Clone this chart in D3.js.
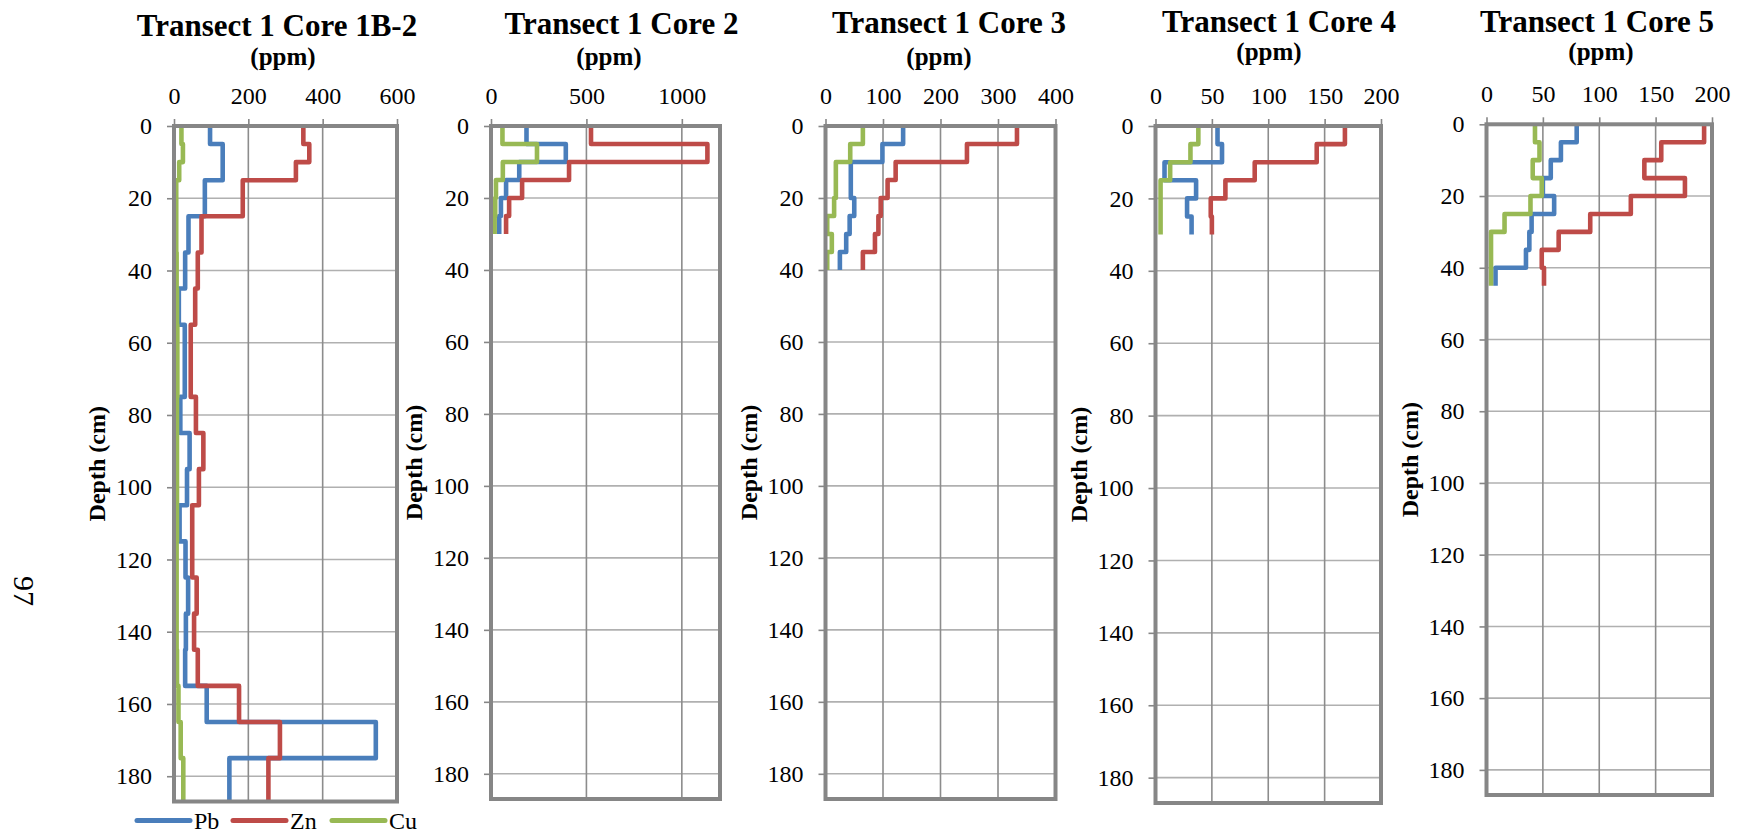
<!DOCTYPE html>
<html><head><meta charset="utf-8">
<script src="https://cdn.jsdelivr.net/npm/d3@7"></script>
<style>
body{margin:0;background:#fff}
svg{display:block}
svg text{font-family:"Liberation Serif","Times New Roman",serif !important;fill:#000}
</style>
</head><body>
<svg id="chart" width="1741" height="837"></svg>
<script>
// ---------- DATA ----------
const seriesNames = ["Pb", "Zn", "Cu"];
const depthMax = 187;
const depthTicks = [0, 20, 40, 60, 80, 100, 120, 140, 160, 180];
const subtitleText = "(ppm)";
const depthLabel = "Depth (cm)";
const pageNumber = "97";

// Core 1B-2
const core1Title = "Transect 1 Core 1B-2";
const core1Ticks = [0, 200, 400, 600];
const core1Depths = [0, 5, 10, 15, 25, 35, 45, 55, 75, 85, 95, 105, 115, 125, 135, 145, 155, 165, 175, 187];
const core1Pb = [97, 131, 131, 83, 39, 30, 13, 29, 17, 42, 35, 15, 31, 38, 32, 30, 88, 543, 149];
const core1Zn = [348, 364, 328, 185, 74, 64, 57, 45, 59, 79, 67, 49, 49, 61, 54, 64, 175, 285, 254];
const core1Cu = [20, 24, 14, 6, 6, 7, 8, 9, 8, 8, 8, 8, 7, 7, 7, 8, 12, 18, 25];

// Core 2
const core2Title = "Transect 1 Core 2";
const core2Ticks = [0, 500, 1000];
const core2Depths = [0, 5, 10, 15, 20, 25, 30];
const core2Pb = [186, 392, 148, 79, 52, 43];
const core2Zn = [524, 1134, 409, 163, 95, 79];
const core2Cu = [60, 241, 62, 26, 22, 19];

// Core 3
const core3Title = "Transect 1 Core 3";
const core3Ticks = [0, 100, 200, 300, 400];
const core3Depths = [0, 5, 10, 15, 20, 25, 30, 35, 40];
const core3Pb = [135, 99, 44, 44, 50, 42, 36, 25];
const core3Zn = [333, 246, 122, 108, 96, 92, 86, 65];
const core3Cu = [65, 43, 18, 18, 15, 3, 11, 3];

// Core 4
const core4Title = "Transect 1 Core 4";
const core4Ticks = [0, 50, 100, 150, 200];
const core4Depths = [0, 5, 10, 15, 20, 25, 30];
const core4Pb = [55, 59, 8, 36, 28, 32];
const core4Zn = [168, 143, 88, 62, 49, 50];
const core4Cu = [38, 31, 13, 4.5, 4.5, 4.5];

// Core 5
const core5Title = "Transect 1 Core 5";
const core5Ticks = [0, 50, 100, 150, 200];
const core5Depths = [0, 5, 10, 15, 20, 25, 30, 35, 40, 45];
const core5Pb = [80, 66, 57, 50, 60, 40, 38, 35, 8];
const core5Zn = [193, 155, 140, 176, 128, 92, 64, 49, 51];
const core5Cu = [43, 47, 41, 49, 39, 16, 4, 4, 4];

// ---------- LAYOUT / STYLE ----------
const serif = "'Liberation Serif','Times New Roman',serif";
const colors = {Pb: "#4A7EBB", Zn: "#BE4B48", Cu: "#98B954"};
const panels = [
  {title: core1Title, ticks: core1Ticks, depths: core1Depths, series: {Pb: core1Pb, Zn: core1Zn, Cu: core1Cu},
   left: 174, right: 397, top: 126, bottom: 801.5, titleX: 277, titleY: 36, subX: 283, subY: 65, legend: true},
  {title: core2Title, ticks: core2Ticks, depths: core2Depths, series: {Pb: core2Pb, Zn: core2Zn, Cu: core2Cu},
   left: 491, right: 720, top: 126, bottom: 799, max: 1200, titleX: 621.5, titleY: 33.5, subX: 609, subY: 65},
  {title: core3Title, ticks: core3Ticks, depths: core3Depths, series: {Pb: core3Pb, Zn: core3Zn, Cu: core3Cu},
   left: 825.5, right: 1055.5, top: 126, bottom: 799, titleX: 949, titleY: 32.5, subX: 939, subY: 65},
  {title: core4Title, ticks: core4Ticks, depths: core4Depths, series: {Pb: core4Pb, Zn: core4Zn, Cu: core4Cu},
   left: 1155.5, right: 1381, top: 126, bottom: 803, titleX: 1279, titleY: 32, subX: 1269, subY: 60},
  {title: core5Title, ticks: core5Ticks, depths: core5Depths, series: {Pb: core5Pb, Zn: core5Zn, Cu: core5Cu},
   left: 1486.5, right: 1712, top: 124.3, bottom: 795, titleX: 1597, titleY: 32, subX: 1601, subY: 60}
];

const svg = d3.select("#chart");
svg.append("rect").attr("width", 1741).attr("height", 837).attr("fill", "#fff");

const frameColor = "#868686";

panels.forEach((p, i) => {
  const xMax = p.max != null ? p.max : p.ticks[p.ticks.length - 1];
  const x = d3.scaleLinear().domain([0, xMax]).range([p.left, p.right]);
  const y = d3.scaleLinear().domain([0, depthMax]).range([p.top, p.bottom]);
  const g = svg.append("g");

  // gridlines
  g.selectAll(".hg").data(depthTicks.filter(d => d > 0)).join("line")
    .attr("x1", p.left).attr("x2", p.right)
    .attr("y1", d => y(d)).attr("y2", d => y(d))
    .attr("stroke", "#b0b0b0").attr("stroke-width", 1.6);
  g.selectAll(".vg").data(p.ticks.filter(d => d > 0 && d < xMax)).join("line")
    .attr("x1", d => x(d)).attr("x2", d => x(d))
    .attr("y1", p.top).attr("y2", p.bottom)
    .attr("stroke", "#8c8c8c").attr("stroke-width", 1.6);

  // axes
  const xa = g.append("g").attr("transform", `translate(0,${p.top})`)
    .call(d3.axisTop(x).tickValues(p.ticks).tickSize(7).tickPadding(15).tickFormat(d3.format("d")));
  const ya = g.append("g").attr("transform", `translate(${p.left},0)`)
    .call(d3.axisLeft(y).tickValues(depthTicks).tickSize(7).tickPadding(15).tickFormat(d3.format("d")));
  [xa, ya].forEach(a => {
    a.attr("font-family", null).attr("font-size", null);
    a.select(".domain").remove();
    a.selectAll(".tick line").attr("stroke", frameColor).attr("stroke-width", 1.6);
    a.selectAll(".tick text").style("font-size", "24px").style("font-family", serif).attr("fill", "#000");
  });

  // data lines
  const clipId = "clip" + i;
  svg.append("clipPath").attr("id", clipId).append("rect")
    .attr("x", p.left).attr("y", p.top).attr("width", p.right - p.left).attr("height", p.bottom - p.top);
  const line = d3.line().x(d => x(d[0])).y(d => y(d[1]));
  const lg = g.append("g").attr("clip-path", `url(#${clipId})`);
  seriesNames.forEach(name => {
    const vals = p.series[name];
    const pts = [];
    vals.forEach((v, k) => { pts.push([v, p.depths[k]]); pts.push([v, p.depths[k + 1]]); });
    lg.append("path").datum(pts).attr("d", line)
      .attr("fill", "none").attr("stroke", colors[name]).attr("stroke-width", 4.6)
      .attr("stroke-linejoin", "round").attr("stroke-linecap", "butt");
  });

  // frame
  g.append("rect").attr("x", p.left).attr("y", p.top)
    .attr("width", p.right - p.left).attr("height", p.bottom - p.top)
    .attr("fill", "none").attr("stroke", frameColor).attr("stroke-width", 4);

  // titles
  g.append("text").attr("x", p.titleX).attr("y", p.titleY).attr("text-anchor", "middle")
    .style("font-size", "31px").style("font-weight", "bold").text(p.title);
  g.append("text").attr("x", p.subX).attr("y", p.subY).attr("text-anchor", "middle")
    .style("font-size", "25px").style("font-weight", "bold").text(subtitleText);
  g.append("text").attr("transform", `translate(${p.left - 77},${(p.top + p.bottom) / 2}) rotate(-90)`)
    .attr("text-anchor", "middle").attr("dominant-baseline", "central")
    .style("font-size", "24px").style("font-weight", "bold").text(depthLabel);

  // legend
  if (p.legend) {
    const legY = 820.5;
    const itemX = [137, 233, 332];
    seriesNames.forEach((name, k) => {
      g.append("line").attr("x1", itemX[k]).attr("x2", itemX[k] + 53)
        .attr("y1", legY).attr("y2", legY)
        .attr("stroke", colors[name]).attr("stroke-width", 5).attr("stroke-linecap", "round");
      g.append("text").attr("x", itemX[k] + 57).attr("y", legY).attr("dominant-baseline", "central")
        .style("font-size", "24px").text(name);
    });
  }
});

// page number (rotated page)
svg.append("text").attr("transform", "translate(24,591) rotate(90)")
  .attr("text-anchor", "middle").attr("dominant-baseline", "central")
  .style("font-size", "30px").text(pageNumber);
</script>
</body></html>
